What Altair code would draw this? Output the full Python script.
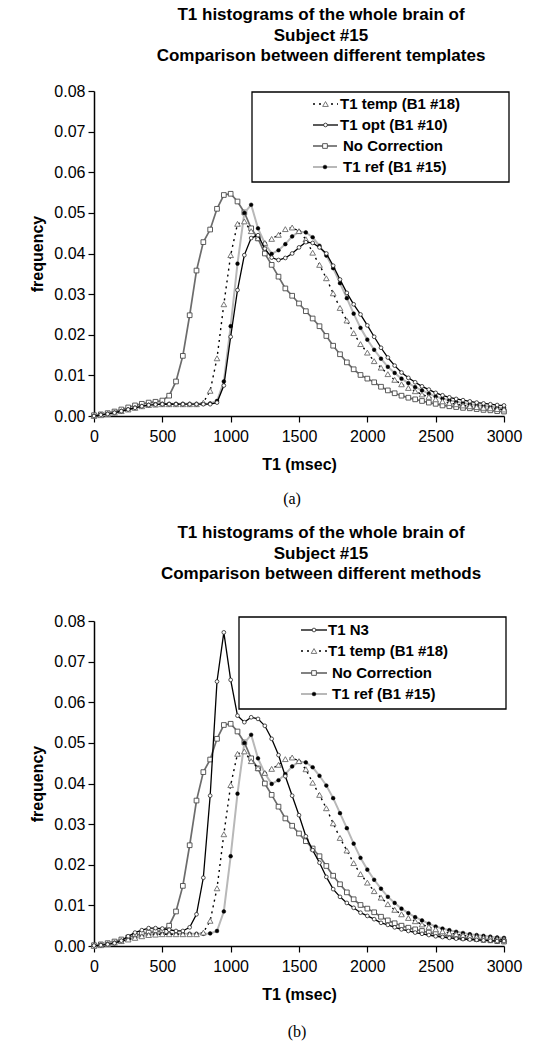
import altair as alt
import pandas as pd

# ---------------- data ----------------
T1_MS = [0, 50, 100, 150, 200, 250, 300, 350, 400, 450, 500, 550, 600, 650, 700,
         750, 800, 850, 900, 950, 1000, 1050, 1100, 1150, 1200, 1250, 1300, 1350,
         1400, 1450, 1500, 1550, 1600, 1650, 1700, 1750, 1800, 1850, 1900, 1950,
         2000, 2050, 2100, 2150, 2200, 2250, 2300, 2350, 2400, 2450, 2500, 2550,
         2600, 2650, 2700, 2750, 2800, 2850, 2900, 2950, 3000]

NO_CORRECTION = [0.0002, 0.0004, 0.0007, 0.0011, 0.0016, 0.0021, 0.0026, 0.0030, 0.0033, 0.0035,
                 0.0038, 0.0050, 0.0085, 0.0148, 0.0248, 0.0358, 0.0428, 0.0459, 0.0510, 0.0544,
                 0.0547, 0.0528, 0.0501, 0.0462, 0.0437, 0.0400, 0.0372, 0.0343, 0.0314, 0.0296,
                 0.0277, 0.0258, 0.0240, 0.0221, 0.0197, 0.0173, 0.0152, 0.0132, 0.0115, 0.0101,
                 0.0092, 0.0083, 0.0072, 0.0063, 0.0056, 0.0050, 0.0045, 0.0041, 0.0037, 0.0033,
                 0.0030, 0.0026, 0.0024, 0.0022, 0.0020, 0.0019, 0.0017, 0.0015, 0.0014, 0.0012,
                 0.0011]

T1_REF = [0.0000, 0.0003, 0.0005, 0.0008, 0.0012, 0.0016, 0.0020, 0.0024, 0.0027, 0.0029,
          0.0030, 0.0030, 0.0030, 0.0030, 0.0030, 0.0030, 0.0030, 0.0031, 0.0037, 0.0085,
          0.0221, 0.0375, 0.0500, 0.0520, 0.0462, 0.0425, 0.0399, 0.0408, 0.0423, 0.0442,
          0.0454, 0.0452, 0.0440, 0.0419, 0.0395, 0.0364, 0.0327, 0.0290, 0.0252, 0.0217,
          0.0188, 0.0163, 0.0141, 0.0121, 0.0106, 0.0092, 0.0081, 0.0071, 0.0063, 0.0055,
          0.0048, 0.0043, 0.0039, 0.0035, 0.0032, 0.0029, 0.0027, 0.0025, 0.0023, 0.0021,
          0.0020]

T1_TEMP = [0.0000, 0.0002, 0.0005, 0.0008, 0.0012, 0.0016, 0.0020, 0.0024, 0.0027, 0.0028,
           0.0029, 0.0029, 0.0029, 0.0029, 0.0029, 0.0029, 0.0033, 0.0062, 0.0142, 0.0275,
           0.0396, 0.0473, 0.0479, 0.0455, 0.0438, 0.0426, 0.0436, 0.0446, 0.0460, 0.0464,
           0.0455, 0.0435, 0.0402, 0.0372, 0.0339, 0.0302, 0.0266, 0.0235, 0.0204, 0.0177,
           0.0156, 0.0135, 0.0119, 0.0103, 0.0089, 0.0078, 0.0069, 0.0061, 0.0053, 0.0047,
           0.0041, 0.0036, 0.0032, 0.0029, 0.0026, 0.0024, 0.0022, 0.0020, 0.0019, 0.0017,
           0.0016]

T1_OPT = [0.0000, 0.0003, 0.0005, 0.0008, 0.0012, 0.0016, 0.0020, 0.0024, 0.0027, 0.0028,
          0.0029, 0.0029, 0.0029, 0.0029, 0.0029, 0.0029, 0.0029, 0.0029, 0.0033, 0.0075,
          0.0195, 0.0310, 0.0396, 0.0438, 0.0445, 0.0412, 0.0390, 0.0384, 0.0389, 0.0400,
          0.0415, 0.0428, 0.0426, 0.0415, 0.0400, 0.0370, 0.0336, 0.0303, 0.0275, 0.0250,
          0.0223, 0.0195, 0.0168, 0.0144, 0.0124, 0.0107, 0.0094, 0.0083, 0.0073, 0.0065,
          0.0057, 0.0051, 0.0046, 0.0042, 0.0039, 0.0036, 0.0033, 0.0031, 0.0029, 0.0027,
          0.0026]

T1_N3 = [0.0001, 0.0002, 0.0004, 0.0007, 0.0013, 0.0024, 0.0033, 0.0039, 0.0044, 0.0044,
         0.0043, 0.0040, 0.0037, 0.0037, 0.0046, 0.0078, 0.0168, 0.0370, 0.0651, 0.0772,
         0.0655, 0.0567, 0.0551, 0.0563, 0.0559, 0.0542, 0.0510, 0.0470, 0.0418, 0.0370,
         0.0322, 0.0270, 0.0236, 0.0205, 0.0170, 0.0140, 0.0121, 0.0106, 0.0094, 0.0082,
         0.0074, 0.0066, 0.0057, 0.0052, 0.0046, 0.0041, 0.0037, 0.0033, 0.0030, 0.0027,
         0.0024, 0.0022, 0.0020, 0.0018, 0.0017, 0.0016, 0.0015, 0.0014, 0.0013, 0.0012,
         0.0012]

X_TICKS = [0, 500, 1000, 1500, 2000, 2500, 3000]
Y_TICKS = [0.0, 0.01, 0.02, 0.03, 0.04, 0.05, 0.06, 0.07, 0.08]

TITLE_A = ["T1 histograms of the whole brain of", "Subject #15",
           "Comparison between different templates"]
TITLE_B = ["T1 histograms of the whole brain of", "Subject #15",
           "Comparison between different methods"]

# ---------------- styles ----------------
FONT = "Liberation Sans"
SERIF = "Liberation Serif"
W, H = 410, 325

STYLE = {
    "T1 temp (B1 #18)": dict(
        line=dict(color="black", strokeWidth=1.4, strokeDash=[2, 4]),
        pt=dict(shape="triangle-up", size=32, fill="white", stroke="#6a6a6a", strokeWidth=0.9, opacity=1)),
    "T1 opt (B1 #10)": dict(
        line=dict(color="black", strokeWidth=1.3),
        pt=dict(shape="circle", size=14, fill="white", stroke="#222222", strokeWidth=0.8, opacity=1)),
    "T1 N3": dict(
        line=dict(color="black", strokeWidth=1.3),
        pt=dict(shape="circle", size=14, fill="white", stroke="#222222", strokeWidth=0.8, opacity=1)),
    "No Correction": dict(
        line=dict(color="#6c6c6c", strokeWidth=1.7),
        pt=dict(shape="square", size=22, fill="white", stroke="#4a4a4a", strokeWidth=0.9, opacity=1)),
    "T1 ref (B1 #15)": dict(
        line=dict(color="#b8b8b8", strokeWidth=2.0),
        pt=dict(shape="circle", size=14, fill="black", stroke="black", strokeWidth=0.5, opacity=1)),
}

X_ENC = alt.X("t1:Q", scale=alt.Scale(domain=[0, 3000], nice=False, zero=False),
              axis=alt.Axis(values=X_TICKS, title="T1 (msec)", format="d", labelFlush=False))
Y_ENC = alt.Y("freq:Q", scale=alt.Scale(domain=[0, 0.08], nice=False),
              axis=alt.Axis(values=Y_TICKS, format=".2f", title="frequency", labelFlush=False))


def panel(series, draw_order, title_lines, title_offset, box, rows, caption, cap_xy):
    recs = []
    for name, vals in series:
        for x, v in zip(T1_MS, vals):
            recs.append({"series": name, "t1": x, "freq": v})
    df = pd.DataFrame(recs)
    base = alt.Chart(df)
    layers = []
    for name in draw_order:
        st = STYLE[name]
        sub = base.transform_filter(alt.datum.series == name)
        layers.append(sub.mark_line(**st["line"]).encode(x=X_ENC, y=Y_ENC))
        layers.append(sub.mark_point(**st["pt"]).encode(x=X_ENC, y=Y_ENC))
    one = alt.Chart(pd.DataFrame({"k": [0]}))
    bx0, bx1, by0, by1 = box
    layers.append(one.mark_rect(fill="white", stroke="black", strokeWidth=1.3).encode(
        x=alt.value(bx0), x2=alt.value(bx1), y=alt.value(by0), y2=alt.value(by1)))
    for (name, _), (ly, lx0, lx1, tx) in zip(series, rows):
        st = STYLE[name]
        layers.append(one.mark_rule(**st["line"]).encode(
            x=alt.value(lx0), x2=alt.value(lx1), y=alt.value(ly)))
        layers.append(one.mark_point(**st["pt"]).encode(
            x=alt.value((lx0 + lx1) / 2), y=alt.value(ly)))
        layers.append(one.mark_text(text=name, align="left", baseline="middle", font=FONT,
                                    fontSize=15, fontWeight="bold", color="black").encode(
            x=alt.value(tx), y=alt.value(ly)))
    layers.append(one.mark_text(text=caption, font=SERIF, fontSize=16, color="black",
                                baseline="middle").encode(
        x=alt.value(cap_xy[0]), y=alt.value(cap_xy[1])))
    return alt.layer(*layers).properties(
        width=W, height=H,
        title=alt.TitleParams(text=title_lines, font=FONT, fontSize=17, fontWeight="bold",
                              color="black", anchor="middle", frame="group", dx=22,
                              lineHeight=20.5, offset=title_offset),
    )


chart_a = panel(
    [("T1 temp (B1 #18)", T1_TEMP), ("T1 opt (B1 #10)", T1_OPT),
     ("No Correction", NO_CORRECTION), ("T1 ref (B1 #15)", T1_REF)],
    ["No Correction", "T1 ref (B1 #15)", "T1 temp (B1 #18)", "T1 opt (B1 #10)"],
    TITLE_A, 18, (158, 415, 1, 91),
    [(13, 219, 244, 246), (34, 219, 244, 246), (55, 219, 243, 249), (76, 219, 243, 249)],
    "(a)", (198, 408))

chart_b = panel(
    [("T1 N3", T1_N3), ("T1 temp (B1 #18)", T1_TEMP),
     ("No Correction", NO_CORRECTION), ("T1 ref (B1 #15)", T1_REF)],
    ["No Correction", "T1 ref (B1 #15)", "T1 temp (B1 #18)", "T1 N3"],
    TITLE_B, 30, (145, 412, -4, 88),
    [(9, 207, 233, 234), (30, 207, 233, 234), (52, 207, 233, 238), (73, 207, 233, 238)],
    "(b)", (203, 411))

chart = alt.vconcat(chart_a, chart_b, spacing=17).properties(
    padding={"left": 29, "top": 6, "right": 5, "bottom": 2}
).configure_view(stroke=None).configure_axis(
    grid=False, domainColor="black", domainWidth=1.5, tickColor="black", tickWidth=1.2,
    tickSize=6, labelFont=FONT, labelFontSize=16, labelColor="black", titleFont=FONT,
    titleFontSize=16, titleFontWeight="bold", titleColor="black"
).configure_axisX(labelPadding=6, titlePadding=12).configure_axisY(labelPadding=3, titlePadding=8)

chart.save("out.html", embed_options={"renderer": "svg", "actions": False})
